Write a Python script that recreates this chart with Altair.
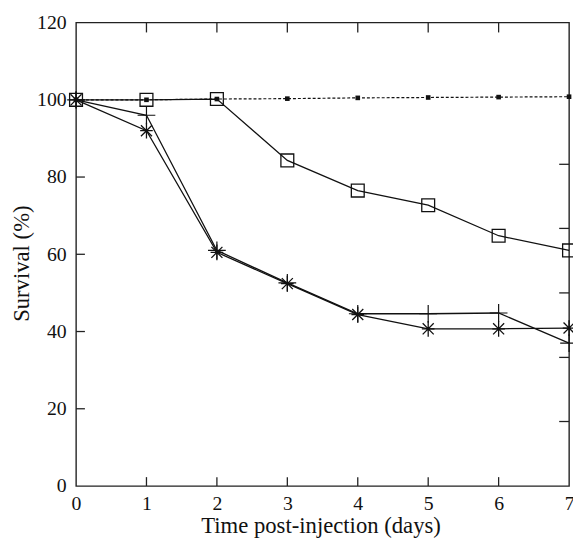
import altair as alt
import pandas as pd

# ---- data ----
days = [0, 1, 2, 3, 4, 5, 6, 7]
control = [100.0, 100.0, 100.2, 100.3, 100.5, 100.6, 100.7, 100.8]
squares = [100.0, 100.0, 100.2, 84.3, 76.5, 72.7, 64.8, 61.0]
asterisks = [100.0, 92.0, 60.5, 52.4, 44.4, 40.7, 40.7, 40.9]
crosses = [100.0, 96.0, 61.0, 52.6, 44.6, 44.6, 44.8, 37.0]

x_ticks = [0, 1, 2, 3, 4, 5, 6, 7]
y_ticks = [0, 20, 40, 60, 80, 100, 120]
bottom_ticks = [1, 2, 3, 4, 5, 6]
top_ticks = [1, 2, 3, 4, 5, 6]
left_ticks = [20, 40, 60, 80, 100]
right_ticks = [16.7, 33.3, 50.0, 66.7, 83.3]

FONT = "Liberation Serif"
INK = "#111111"
TICK = "#222222"
W, H = 500, 470

ASTERISK = "M0,-1L0,1M-0.7,-0.7L0.7,0.7M-0.7,0.7L0.7,-0.7M-0.8,0L0.8,0"
PLUS = "M-1,0L1,0M0,-1L0,1"

xscale = alt.Scale(domain=[0, 7], nice=False, zero=False)
yscale = alt.Scale(domain=[0, 120], nice=False, zero=False)

bottom_axis = alt.Axis(
    orient="bottom", values=x_ticks, format="d", ticks=False,
    domain=False, grid=False, labelPadding=8, labelFlush=False,
    labelFont=FONT, labelFontSize=20, labelColor=INK,
    title="Time post-injection (days)", titleFont=FONT, titleFontSize=23,
    titleFontWeight="normal", titleColor=INK, titleBaseline="alphabetic",
    titleX=248, titleY=47,
)
left_axis = alt.Axis(
    orient="left", values=y_ticks, format="d", ticks=False,
    domain=False, grid=False, labelPadding=10, labelFlush=False,
    labelFont=FONT, labelFontSize=20, labelColor=INK,
    title="Survival (%)", titleFont=FONT, titleFontSize=23,
    titleFontWeight="normal", titleColor=INK, titleBaseline="alphabetic",
    titleAngle=270, titleAlign="center", titleX=-48, titleY=244,
)


def frame(values):
    return pd.DataFrame({"day": days, "survival": values})


def enc(xaxis=None, yaxis=None):
    return dict(
        x=alt.X("day:Q", scale=xscale, axis=xaxis),
        y=alt.Y("survival:Q", scale=yscale, axis=yaxis),
    )


layers = []

# control series: dashed line (carries the labelled axes)
layers.append(
    alt.Chart(frame(control))
    .mark_line(color=INK, strokeWidth=1.2, strokeDash=[3, 2])
    .encode(**enc(bottom_axis, left_axis))
)
for vals in (squares, crosses, asterisks):
    layers.append(
        alt.Chart(frame(vals)).mark_line(color=INK, strokeWidth=1.3).encode(**enc())
    )

# inward tick stubs on all four sides
layers.append(
    alt.Chart(pd.DataFrame({"t": bottom_ticks}))
    .mark_rule(color=TICK, strokeWidth=1.3)
    .encode(x=alt.X("t:Q", scale=xscale, axis=None), y=alt.value(H), y2=alt.value(H - 9))
)
layers.append(
    alt.Chart(pd.DataFrame({"t": top_ticks}))
    .mark_rule(color=TICK, strokeWidth=1.3)
    .encode(x=alt.X("t:Q", scale=xscale, axis=None), y=alt.value(0), y2=alt.value(10))
)
layers.append(
    alt.Chart(pd.DataFrame({"t": left_ticks}))
    .mark_rule(color=TICK, strokeWidth=1.3)
    .encode(y=alt.Y("t:Q", scale=yscale, axis=None), x=alt.value(0), x2=alt.value(9))
)
layers.append(
    alt.Chart(pd.DataFrame({"t": right_ticks}))
    .mark_rule(color=TICK, strokeWidth=1.3)
    .encode(y=alt.Y("t:Q", scale=yscale, axis=None), x=alt.value(W), x2=alt.value(W - 10))
)

# markers
layers.append(
    alt.Chart(frame(squares))
    .mark_point(shape="square", size=170, filled=False, color=INK, strokeWidth=1.3, opacity=1)
    .encode(**enc())
)
layers.append(
    alt.Chart(frame(crosses))
    .mark_point(shape=PLUS, size=324, filled=False, color=INK, strokeWidth=1.2, opacity=1)
    .encode(**enc())
)
layers.append(
    alt.Chart(frame(asterisks))
    .mark_point(shape=ASTERISK, size=256, filled=False, color=INK, strokeWidth=1.3, opacity=1)
    .encode(**enc())
)
layers.append(
    alt.Chart(frame(control))
    .mark_point(shape="square", size=22, filled=True, color=INK, opacity=1)
    .encode(**enc())
)

chart = (
    alt.layer(*layers)
    .resolve_axis(x="independent", y="independent")
    .properties(
        width=W,
        height=H,
        autosize=alt.AutoSizeParams(type="none"),
        padding={"left": 69, "top": 11, "right": 4, "bottom": 52},
        background="white",
    )
    .configure_view(stroke="#222222", strokeWidth=1.4)
)

chart.save("out.html", embed_options={"renderer": "svg", "actions": False})
